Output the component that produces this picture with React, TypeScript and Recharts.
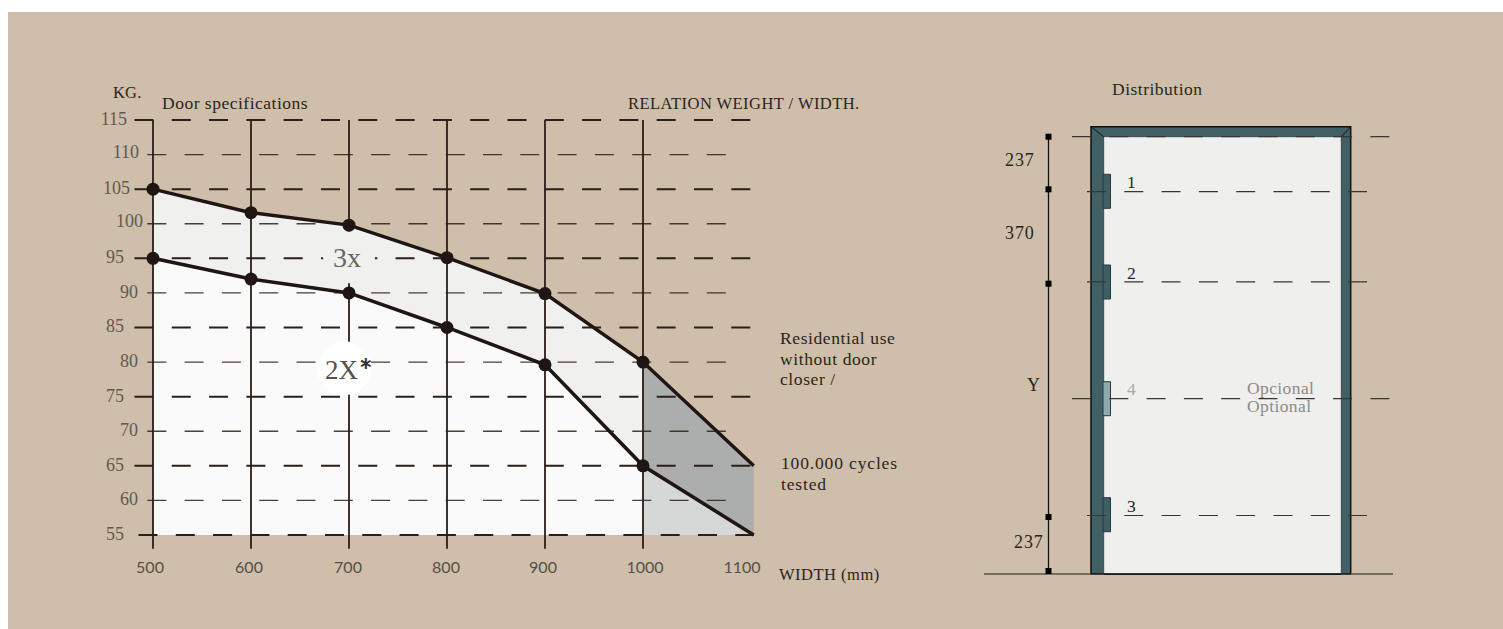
import {
  Area,
  ComposedChart,
  Line,
  ReferenceArea,
  ReferenceDot,
  ReferenceLine,
  Scatter,
  XAxis,
  YAxis,
} from "recharts";

const SERIF = "'Liberation Serif', serif";
const INK = "#1f1512";
const SAND = "#cfbea9";

// weight / width chart
const widths = [500, 600, 700, 800, 900, 1000, 1113];
const upperLimit = [105, 101.6, 99.8, 95.1, 89.9, 80, 65];
const lowerLimit = [95, 92, 90, 85, 79.6, 65, 55];
const widthTicks = [500, 600, 700, 800, 900, 1000, 1100];
const widthGrid = [500, 600, 700, 800, 900, 1000];
const weightTicks = [115, 110, 105, 100, 95, 90, 85, 80, 75, 70, 65, 60, 55];
const lastCertifiedWidth = 1000;

const chartRows = widths.map((width, i) => ({
  width,
  upper: upperLimit[i],
  lower: lowerLimit[i],
  upperCertified: width <= lastCertifiedWidth ? upperLimit[i] : null,
  lowerCertified: width <= lastCertifiedWidth ? lowerLimit[i] : null,
  upperBeyond: width >= lastCertifiedWidth ? upperLimit[i] : null,
  lowerBeyond: width >= lastCertifiedWidth ? lowerLimit[i] : null,
}));

// door drawing, in drawing units
const doorOuter = { left: 1091, right: 1350.7, top: 126.7, bottom: 574 };
const doorInner = { left: 1103.7, right: 1341.3, top: 136.7, bottom: 574 };
const hinges = [
  { top: 174.3, bottom: 208.3, fill: "#3f5f64" },
  { top: 265, bottom: 299, fill: "#3f5f64" },
  { top: 381.7, bottom: 415.7, fill: "#8fa9ad" },
  { top: 497.7, bottom: 531.7, fill: "#3f5f64" },
];
const longGuides = [136.6, 398.7];
const shortGuides = [191.6, 281.8, 515.5];
const dimensionStops = [136.7, 189.3, 283.7, 517, 571];

const xLabelNudge: Record<number, number> = { 500: -3, 600: -2, 700: -1, 800: -1, 900: -2, 1000: 2, 1100: 1 };

const YTick = ({ y, payload }: any) => {
  const major = (115 - payload.value) % 10 === 0;
  const end = payload.value === 115 ? 39 : payload.value === 105 ? 42 : payload.value === 100 ? 55 : payload.value === 110 ? 51 : major ? 36 : 50;
  const lift = payload.value === 110 || payload.value === 100 ? 3 : 5;
  return (
    <text x={end} y={y + lift} textAnchor="end" fontFamily={SERIF} fontSize={18} fill="#5f5a52">
      {payload.value}
    </text>
  );
};

const XTick = ({ x, y, payload }: any) => (
  <text x={x + xLabelNudge[payload.value]} y={y + 16} textAnchor="middle" fontFamily="Lato" fontSize={16} fill="#55504a">
    {payload.value}
  </text>
);

const LimitDot = ({ cx, cy, payload }: any) =>
  payload.width <= lastCertifiedWidth ? <circle cx={cx} cy={cy} r={6.5} fill={INK} /> : <g />;

const WeightChart = () => (
  <ComposedChart
    width={690}
    height={490}
    data={chartRows}
    margin={{ top: 20, right: 22.3, bottom: 0, left: 0 }}
    style={{ position: "absolute", left: 80, top: 88 }}
  >
    <XAxis
      dataKey="width"
      type="number"
      domain={[480, 1115]}
      ticks={widthTicks}
      height={41.2}
      axisLine={false}
      tickLine={false}
      tick={<XTick />}
      interval={0}
    />
    <YAxis
      type="number"
      domain={[53, 115]}
      ticks={weightTicks}
      width={45.4}
      axisLine={false}
      tickLine={false}
      tick={<YTick />}
      interval={0}
    />
    <Area dataKey="upperCertified" baseValue={55} stroke="none" fill="#f0f0ef" fillOpacity={1} isAnimationActive={false} />
    <Area dataKey="upperBeyond" baseValue={55} stroke="none" fill="#abaeac" fillOpacity={1} isAnimationActive={false} />
    <Area dataKey="lowerCertified" baseValue={55} stroke="none" fill="#fafafa" fillOpacity={1} isAnimationActive={false} />
    <Area dataKey="lowerBeyond" baseValue={55} stroke="none" fill="#d6d8d8" fillOpacity={1} isAnimationActive={false} />
    {widthGrid.map((w) => (
      <ReferenceLine key={w} x={w} stroke="#2b1d18" strokeWidth={1.8} />
    ))}
    {weightTicks.map((v) => {
      const major = (115 - v) % 10 === 0;
      const start = v === 55 ? 485.2 : major ? 481.1 : 494.2;
      const end = major ? 1113 : 1085.7;
      return (
        <ReferenceLine
          key={v}
          segment={[
            { x: start, y: v },
            { x: end, y: v },
          ]}
          stroke="#2a1f1a"
          strokeWidth={major ? 2 : 1.3}
          strokeOpacity={major ? 1 : 0.85}
          strokeDasharray="19 18.3"
        />
      );
    })}
    <ReferenceDot x={700} y={95.15} r={26} fill="#f0f0ef" stroke="none" />
    <ReferenceDot x={695} y={79.1} r={27} fill="#ffffff" stroke="none" />
    <Line dataKey="upper" stroke={INK} strokeWidth={3.5} dot={<LimitDot />} activeDot={false} isAnimationActive={false} />
    <Line dataKey="lower" stroke={INK} strokeWidth={3.5} dot={<LimitDot />} activeDot={false} isAnimationActive={false} />
  </ComposedChart>
);

const DoorChart = () => (
  <ComposedChart
    width={430}
    height={460}
    margin={{ top: 0, right: 0, bottom: 0, left: 0 }}
    style={{ position: "absolute", left: 962, top: 108 }}
  >
    <XAxis type="number" dataKey="x" domain={[970, 1400]} hide />
    <YAxis type="number" dataKey="y" domain={[120, 580]} reversed hide />
    <ReferenceArea
      x1={doorOuter.left}
      x2={doorOuter.right}
      y1={doorOuter.top}
      y2={doorOuter.bottom}
      fill="#416066"
      fillOpacity={1}
      stroke="#111"
      strokeWidth={1.5}
    />
    <ReferenceArea
      x1={doorInner.left}
      x2={doorInner.right}
      y1={doorInner.top}
      y2={doorInner.bottom}
      fill="#efefed"
      fillOpacity={1}
      stroke="#2d3c3f"
      strokeWidth={0.8}
    />
    <ReferenceLine
      segment={[
        { x: doorOuter.left, y: doorOuter.top },
        { x: doorInner.left, y: doorInner.top },
      ]}
      stroke="#111"
    />
    <ReferenceLine
      segment={[
        { x: doorOuter.right, y: doorOuter.top },
        { x: doorInner.right, y: doorInner.top },
      ]}
      stroke="#111"
    />
    <ReferenceLine
      segment={[
        { x: doorInner.left, y: doorOuter.bottom },
        { x: doorInner.right, y: doorOuter.bottom },
      ]}
      stroke="#111"
      strokeWidth={1.6}
    />
    <ReferenceLine
      segment={[
        { x: 984, y: doorOuter.bottom },
        { x: doorOuter.left, y: doorOuter.bottom },
      ]}
      stroke="#55504a"
      strokeWidth={1.3}
    />
    <ReferenceLine
      segment={[
        { x: doorOuter.right, y: doorOuter.bottom },
        { x: 1393, y: doorOuter.bottom },
      ]}
      stroke="#55504a"
      strokeWidth={1.3}
    />
    {hinges.map((h) => (
      <ReferenceArea
        key={h.top}
        x1={1103}
        x2={1110.5}
        y1={h.top}
        y2={h.bottom}
        fill={h.fill}
        fillOpacity={1}
        stroke="#26383b"
        strokeWidth={1}
      />
    ))}
    {longGuides.map((y) => (
      <ReferenceLine
        key={y}
        segment={[
          { x: 1072, y },
          { x: 1390, y },
        ]}
        stroke="#3a3531"
        strokeWidth={1.2}
        strokeDasharray="19 18.3"
      />
    ))}
    {shortGuides.map((y) => (
      <ReferenceLine
        key={y}
        segment={[
          { x: 1087, y },
          { x: 1367, y },
        ]}
        stroke="#3a3531"
        strokeWidth={1.2}
        strokeDasharray="19 18.3"
      />
    ))}
    <ReferenceLine
      segment={[
        { x: 1048.5, y: dimensionStops[0] },
        { x: 1048.5, y: dimensionStops[dimensionStops.length - 1] },
      ]}
      stroke="#111"
      strokeWidth={1.3}
    />
    <Scatter
      data={dimensionStops.map((y) => ({ x: 1048.5, y }))}
      shape={({ cx, cy }: any) => <rect x={cx - 3} y={cy - 3} width={6} height={6} fill="#000" />}
      isAnimationActive={false}
    />
  </ComposedChart>
);

const Note = ({ x, y, size = 17.5, color = "#2a2520", family = SERIF, spacing = 0.55, weight = 400, children }: any) => (
  <div
    style={{
      position: "absolute",
      left: x - 8,
      top: y - 12,
      fontFamily: family,
      fontSize: size,
      fontWeight: weight,
      lineHeight: "20.5px",
      color,
      letterSpacing: spacing,
      whiteSpace: "pre",
      transform: "translateY(-50%)",
    }}
  >
    {children}
  </div>
);

export default function App() {
  return (
    <div style={{ position: "absolute", left: 8, top: 12, width: 1495, height: 617, background: SAND, overflow: "hidden" }}>
      <WeightChart />
      <DoorChart />

      <Note x={113} y={93} size={16.5} spacing={0.2}>KG.</Note>
      <Note x={162} y={103} spacing={0.5}>Door specifications</Note>
      <Note x={628} y={104} size={16.5} spacing={0.45}>RELATION WEIGHT / WIDTH.</Note>
      <Note x={780} y={359} spacing={0.6}>{"Residential use\nwithout door\ncloser /"}</Note>
      <Note x={781} y={473} spacing={0.85}>{"100.000 cycles\ntested"}</Note>
      <Note x={779} y={575} size={16.5} spacing={0.5}>WIDTH (mm)</Note>
      <Note x={333} y={258} size={28} spacing={0} color="#6a665f">3x</Note>
      <Note x={325} y={370} size={27} spacing={0} color="#55514c">2X</Note>
      <Note x={359} y={371} size={32} spacing={0} family="Lato" weight={700} color="#35302c">*</Note>

      <Note x={1112} y={89} spacing={0.5}>Distribution</Note>
      <Note x={1005} y={160} size={18} spacing={0.9}>237</Note>
      <Note x={1005} y={233} size={18} spacing={0.9}>370</Note>
      <Note x={1027} y={385} size={18}>Y</Note>
      <Note x={1014} y={542} size={18} spacing={0.9}>237</Note>
      <Note x={1127} y={182}>1</Note>
      <Note x={1127} y={273}>2</Note>
      <Note x={1127} y={389} color="#a9a9a7">4</Note>
      <Note x={1127} y={506}>3</Note>
      <Note x={1247} y={388} color="#8c8c8a" spacing={0.4}>Opcional</Note>
      <Note x={1247} y={406} color="#8c8c8a" spacing={0.4}>Optional</Note>
    </div>
  );
}
